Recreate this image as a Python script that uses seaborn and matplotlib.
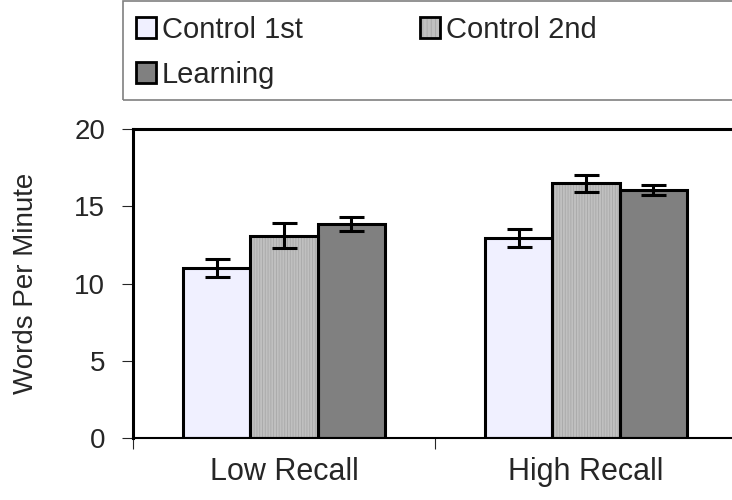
import matplotlib
matplotlib.use("Agg")
import matplotlib.pyplot as plt
import matplotlib.patches as mpatches
import seaborn as sns
import pandas as pd

# ---- data ----
conditions = ["Low Recall", "High Recall"]
groups = ["Control 1st", "Control 2nd", "Learning"]
control1 = [11.0, 12.95]
control2 = [13.1, 16.5]
learning = [13.85, 16.05]
control1_err = [0.6, 0.6]
control2_err = [0.8, 0.55]
learning_err = [0.45, 0.35]

colors = {"Control 1st": "#F0F0FF", "Control 2nd": "#C0C0C0", "Learning": "#808080"}

df = pd.DataFrame({
    "condition": conditions * 3,
    "group": [g for g in groups for _ in conditions],
    "wpm": control1 + control2 + learning,
    "err": control1_err + control2_err + learning_err,
})

sns.set_style("white")
plt.rcParams["font.family"] = ["Liberation Sans", "DejaVu Sans"]
plt.rcParams["hatch.linewidth"] = 0.6

fig = plt.figure(figsize=(7.32, 5.0), dpi=100)
ax = fig.add_axes([133 / 732, 62 / 500, 604 / 732, 309 / 500])

sns.barplot(data=df, x="condition", y="wpm", hue="group", order=conditions,
            hue_order=groups, palette=colors, errorbar=None, width=0.667,
            edgecolor="black", linewidth=2.2, legend=False, ax=ax, saturation=1)

# hatch on the middle series, then outline again in black
for i, bar in enumerate(ax.patches[:6]):
    g = groups[i // 2]
    if g == "Control 2nd":
        bar.set_hatch("||||||")
        bar.set_edgecolor("#A8A8A8")
        bar.set_linewidth(0)
        ax.add_patch(mpatches.Rectangle(bar.get_xy(), bar.get_width(), bar.get_height(),
                                        fill=False, edgecolor="black", linewidth=2.2, zorder=3))
    # error bars at bar centres
    k = i % 2
    ax.errorbar(bar.get_x() + bar.get_width() / 2, bar.get_height(),
                yerr=df.loc[(df.group == g) & (df.condition == conditions[k]), "err"].values,
                fmt="none", ecolor="black", elinewidth=2.2, capsize=9, capthick=2.2, zorder=4)

ax.set_ylim(0, 20)
ax.set_xlim(-0.5, 1.5)
ax.set_yticks([0, 5, 10, 15, 20])
ax.tick_params(axis="y", direction="out", length=8, width=0.8, pad=12, labelsize=20, left=True)

ax.set_xticks([-0.5, 0.5, 1.5])
ax.set_xticklabels([])
ax.set_xticks([0, 1], minor=True)
ax.set_xticklabels(conditions, minor=True, fontsize=22)
ax.tick_params(axis="x", which="major", direction="out", length=8, width=0.8, bottom=True)
ax.tick_params(axis="x", which="minor", length=0, pad=14)

ax.set_xlabel("")
ax.set_ylabel("Words Per Minute", fontsize=20)
ax.yaxis.set_label_coords(-0.156, 0.5)

for s in ["left", "top"]:
    ax.spines[s].set_linewidth(2.2)
    ax.spines[s].set_color("black")
ax.spines["bottom"].set_linewidth(1.5)
ax.spines["bottom"].set_color("black")
ax.spines["right"].set_visible(False)

# legend box spanning to the right edge
fig.patches.append(mpatches.Rectangle((123 / 732, 400 / 500), 0.9, 99 / 500,
                                      transform=fig.transFigure, fill=False,
                                      edgecolor="#808080", linewidth=1.2))

handles = {g: mpatches.Patch(facecolor=colors[g], edgecolor="black", linewidth=2.0) for g in groups}
handles["Control 2nd"] = (
    mpatches.Patch(facecolor=colors["Control 2nd"], edgecolor="#A8A8A8", hatch="||||", linewidth=0),
    mpatches.Patch(fill=False, edgecolor="black", linewidth=2.0),
)
order = ["Control 1st", "Learning", "Control 2nd"]  # column-wise fill -> row-wise look
leg = fig.legend([handles[g] for g in order], order, loc="upper left",
                 bbox_to_anchor=(130 / 732, 0.98), ncol=2, fontsize=21, frameon=False,
                 handlelength=0.7, handleheight=0.7, handletextpad=0.2,
                 columnspacing=4.0, borderpad=0.2, labelspacing=0.58, borderaxespad=0)

fig.savefig("out.png", dpi=100)
